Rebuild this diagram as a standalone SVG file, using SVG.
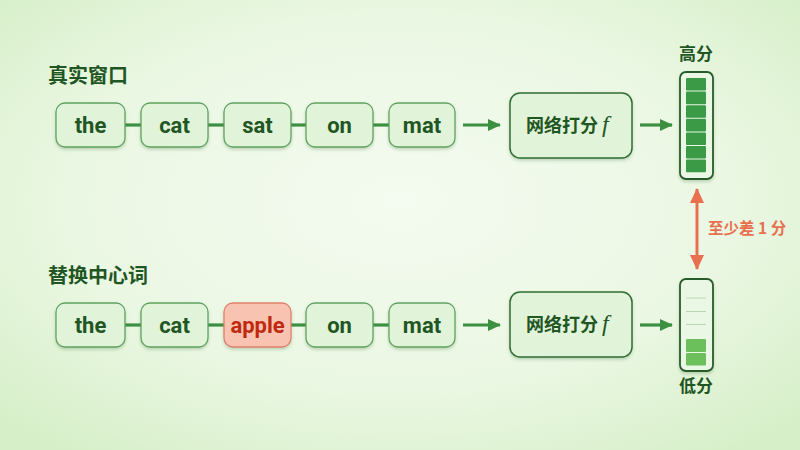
<svg xmlns="http://www.w3.org/2000/svg" width="800" height="450" viewBox="0 0 800 450">
<defs>
<radialGradient id="bg" cx="50%" cy="45%" r="70%">
<stop offset="0" stop-color="#f4fbf0"/>
<stop offset="0.6" stop-color="#eaf7e2"/>
<stop offset="1" stop-color="#d6efc8"/>
</radialGradient>
<filter id="sh" x="-20%" y="-20%" width="140%" height="150%">
<feDropShadow dx="0" dy="2" stdDeviation="1.5" flood-color="#2e6b2e" flood-opacity="0.25"/>
</filter>
<marker id="ag" markerWidth="14" markerHeight="14" refX="12" refY="7" orient="auto" markerUnits="userSpaceOnUse">
<path d="M0,1 L13,7 L0,13 Z" fill="#3d8f42"/>
</marker>
<marker id="ao" markerWidth="16" markerHeight="16" refX="14" refY="8" orient="auto-start-reverse" markerUnits="userSpaceOnUse">
<path d="M0,1 L15,8 L0,15 Z" fill="#e8704f"/>
</marker>
<style>
.tok{fill:#e1f3d9;stroke:#5fa35f;stroke-width:1.3;filter:url(#sh)}
.bad{fill:#f8c4b1;stroke:#e0806a;stroke-width:1.3;filter:url(#sh)}
.net{fill:#e1f3d9;stroke:#2f6e33;stroke-width:1.5;filter:url(#sh)}
.t{font-family:Roboto,"Liberation Sans",sans-serif;font-weight:bold;font-size:22px;fill:#1f5623;text-anchor:middle}
.tr{fill:#c0290f}
.cjk{font-family:"Noto Sans CJK SC",sans-serif;font-weight:bold;fill:#1f5623}
.link{stroke:#3d8f42;stroke-width:3.2;fill:none}
.bar{fill:#eaf7e4;stroke:#285c2b;stroke-width:1.8;filter:url(#sh)}
.hc{fill:#3b9a45}
.lc{fill:#6cc05b}
.sep{stroke:#b9d8b0;stroke-width:1}
</style>
</defs>
<rect width="800" height="450" fill="url(#bg)"/>

<text class="cjk" x="48" y="83" font-size="20">真实窗口</text>
<text class="cjk" x="48" y="283" font-size="20">替换中心词</text>

<g id="connectors">
<line class="link" x1="125" y1="125" x2="141" y2="125"/>
<line class="link" x1="208" y1="125" x2="224" y2="125"/>
<line class="link" x1="291" y1="125" x2="306" y2="125"/>
<line class="link" x1="373" y1="125" x2="389" y2="125"/>
<line class="link" x1="463" y1="125" x2="500" y2="125" marker-end="url(#ag)"/>
<line class="link" x1="640" y1="125" x2="672" y2="125" marker-end="url(#ag)"/>
<line class="link" x1="125" y1="325" x2="141" y2="325"/>
<line class="link" x1="208" y1="325" x2="224" y2="325"/>
<line class="link" x1="291" y1="325" x2="306" y2="325"/>
<line class="link" x1="373" y1="325" x2="389" y2="325"/>
<line class="link" x1="463" y1="325" x2="500" y2="325" marker-end="url(#ag)"/>
<line class="link" x1="640" y1="325" x2="672" y2="325" marker-end="url(#ag)"/>
<line x1="697" y1="189" x2="697" y2="269" stroke="#e8704f" stroke-width="3" marker-start="url(#ao)" marker-end="url(#ao)"/>
</g>

<g id="t1"><rect class="tok" x="56" y="103" width="69" height="44" rx="9"/><text class="t" x="90.5" y="133">the</text></g>
<g id="t2"><rect class="tok" x="141" y="103" width="67" height="44" rx="9"/><text class="t" x="174.5" y="133">cat</text></g>
<g id="t3"><rect class="tok" x="224" y="103" width="67" height="44" rx="9"/><text class="t" x="257.5" y="133">sat</text></g>
<g id="t4"><rect class="tok" x="306" y="103" width="67" height="44" rx="9"/><text class="t" x="339.5" y="133">on</text></g>
<g id="t5"><rect class="tok" x="389" y="103" width="66" height="44" rx="9"/><text class="t" x="422" y="133">mat</text></g>
<g id="net1"><rect class="net" x="510" y="93" width="122" height="65" rx="10"/><text class="cjk" x="526" y="132" font-size="18">网络打分 <tspan font-family="'Liberation Serif',serif" font-style="italic" font-weight="normal" font-size="24">f</tspan></text></g>

<g id="b1"><rect class="tok" x="56" y="303" width="69" height="44" rx="9"/><text class="t" x="90.5" y="333">the</text></g>
<g id="b2"><rect class="tok" x="141" y="303" width="67" height="44" rx="9"/><text class="t" x="174.5" y="333">cat</text></g>
<g id="b3"><rect class="bad" x="224" y="303" width="67" height="44" rx="9"/><text class="t tr" x="257.5" y="333">apple</text></g>
<g id="b4"><rect class="tok" x="306" y="303" width="67" height="44" rx="9"/><text class="t" x="339.5" y="333">on</text></g>
<g id="b5"><rect class="tok" x="389" y="303" width="66" height="44" rx="9"/><text class="t" x="422" y="333">mat</text></g>
<g id="net2"><rect class="net" x="510" y="292" width="122" height="65" rx="10"/><text class="cjk" x="526" y="331" font-size="18">网络打分 <tspan font-family="'Liberation Serif',serif" font-style="italic" font-weight="normal" font-size="24">f</tspan></text></g>

<g id="high">
<text class="cjk" x="696" y="60" font-size="17" text-anchor="middle">高分</text>
<rect class="bar" x="680" y="72" width="33" height="107" rx="6"/>
<rect class="hc" x="686" y="78" width="20" height="12.6" rx="1"/>
<rect class="hc" x="686" y="91.6" width="20" height="12.6" rx="1"/>
<rect class="hc" x="686" y="105.2" width="20" height="12.6" rx="1"/>
<rect class="hc" x="686" y="118.8" width="20" height="12.6" rx="1"/>
<rect class="hc" x="686" y="132.4" width="20" height="12.6" rx="1"/>
<rect class="hc" x="686" y="146" width="20" height="12.6" rx="1"/>
<rect class="hc" x="686" y="159.6" width="20" height="12.6" rx="1"/>
</g>

<g id="low">
<rect class="bar" x="680" y="279" width="33" height="92" rx="6"/>
<line class="sep" x1="686" y1="298" x2="706" y2="298"/>
<line class="sep" x1="686" y1="311.5" x2="706" y2="311.5"/>
<line class="sep" x1="686" y1="324.5" x2="706" y2="324.5"/>
<rect class="lc" x="686" y="339" width="20" height="13" rx="1"/>
<rect class="lc" x="686" y="353" width="20" height="12.5" rx="1"/>
<text class="cjk" x="696" y="392" font-size="17" text-anchor="middle">低分</text>
</g>

<g id="gap"><text x="708" y="234" font-family="'Noto Sans CJK SC',sans-serif" font-weight="bold" font-size="15.5" fill="#e8704f">至少差 1 分</text></g>
</svg>
